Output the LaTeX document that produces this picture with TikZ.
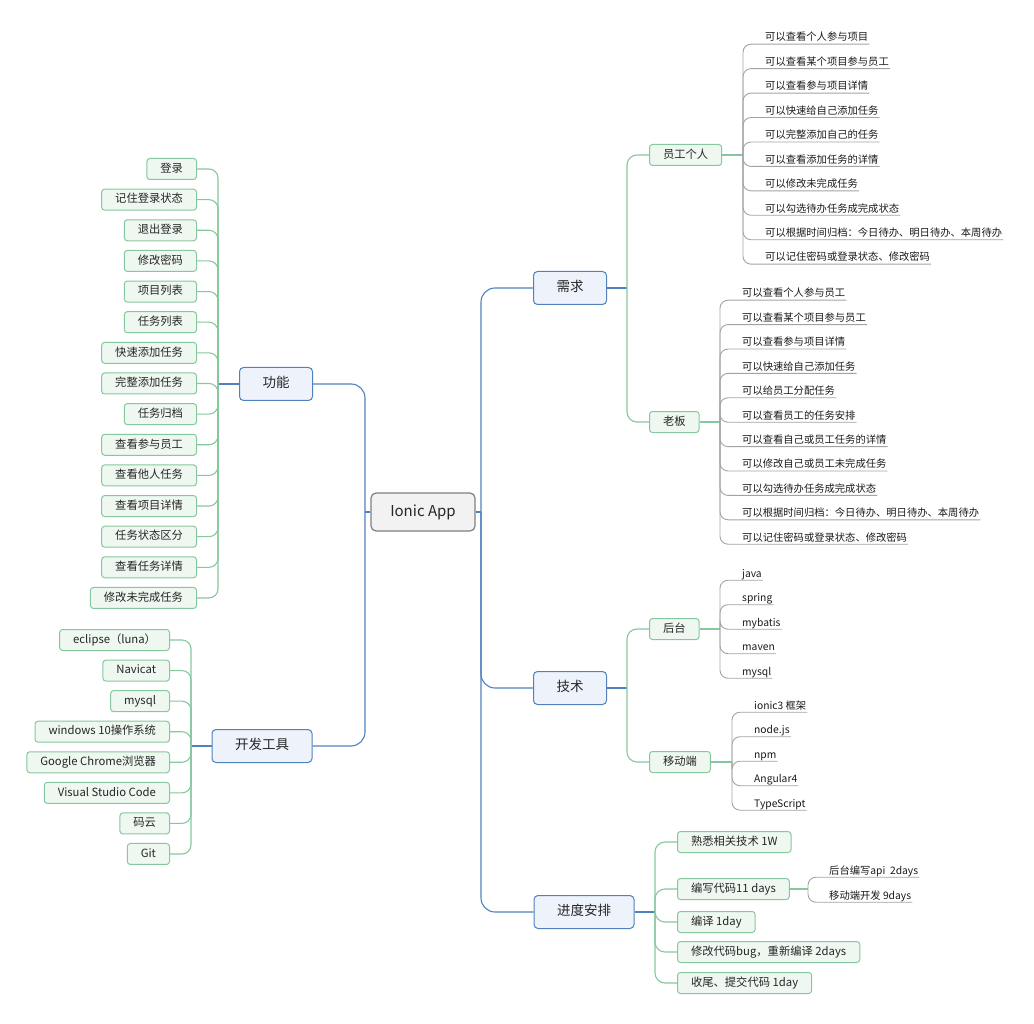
\documentclass[tikz,border=0pt]{standalone}
\usepackage{fontspec}
\setmainfont{Noto Sans CJK SC}
\usetikzlibrary{positioning}

\definecolor{mainblue}{HTML}{4F81BD}
\definecolor{topicfill}{HTML}{EEF3FB}
\definecolor{subgreen}{HTML}{86C89D}
\definecolor{subfill}{HTML}{EEF7F0}
\definecolor{leafgray}{HTML}{A3A3A3}
\definecolor{rootfill}{HTML}{F2F2F2}
\definecolor{rootdraw}{HTML}{7F7F7F}

\tikzset{
  root/.style={draw=rootdraw, fill=rootfill, rounded corners=5, line width=1.2, minimum height=38, minimum width=104, text=black!85, font=\fontsize{15}{18}\selectfont},
  topic/.style={draw=mainblue, fill=topicfill, rounded corners=4, line width=1, minimum height=33, inner xsep=23, text height=10, text depth=3, text=black!85, font=\fontsize{13.5}{16}\selectfont},
  sub/.style={draw=subgreen, fill=subfill, rounded corners=3, line width=1, minimum height=21, inner xsep=13.5, inner ysep=0, text height=9, text depth=2.5, text=black!85, font=\fontsize{11.3}{13}\selectfont},
  leaf/.style={inner xsep=1, inner ysep=1.5, text height=9.5, text depth=1.5, text=black!90, font=\fontsize{10.3}{12}\selectfont},
  bline/.style={draw=mainblue, line width=1.1},
  gline/.style={draw=subgreen, line width=1.1},
  lline/.style={draw=leafgray, line width=0.9}
}

\begin{document}
\begin{tikzpicture}[x=1pt, y=-1pt]

    \useasboundingbox (0,0) rectangle (1034,1024);

    % Centro
    \node[root] (app) at (423,512) {Ionic App};

    % Ramas principales
    \node[topic] (xq) at (570,288) {需求};
    \node[topic] (js) at (570,688) {技术};
    \node[topic] (jd) at (584,912) {进度安排};
    \node[topic] (gn) at (276,384) {功能};
    \node[topic] (kf) at (262,746) {开发工具};

    \coordinate (rj) at (481,512);
    \coordinate (lj) at (365,512);
    \draw[bline] (app.east) -- (rj);
    \draw[bline] (app.west) -- (lj);
    \foreach \n in {xq,js,jd}
      \draw[bline, rounded corners=14] (rj) |- (\n.west);
    \foreach \n in {gn,kf}
      \draw[bline, rounded corners=14] (lj) |- (\n.east);

    % 功能
    \coordinate (gnj) at (218,384);
    \draw[bline] (gn.west) -- (gnj);
    \foreach \t [count=\i] in {登录,记住登录状态,退出登录,修改密码,项目列表,任务列表,快速添加任务,完整添加任务,任务归档,查看参与员工,查看他人任务,查看项目详情,任务状态区分,查看任务详情,修改未完成任务}{
      \node[sub, anchor=east] (gn\i) at (197,{169+(\i-1)*30.64}) {\t};
      \draw[gline, rounded corners=9] (gnj) |- (gn\i.east);
    }

    % 开发工具
    \coordinate (kfj) at (191,746);
    \draw[bline] (kf.west) -- (kfj);
    \foreach \t [count=\i] in {eclipse（luna）,Navicat,mysql,windows 10操作系统,Google Chrome浏览器,Visual Studio Code,码云,Git}{
      \node[sub, anchor=east] (kf\i) at (170,{640+(\i-1)*30.57}) {\t};
      \draw[gline, rounded corners=9] (kfj) |- (kf\i.east);
    }

    % 需求
    \coordinate (xqj) at (627,288);
    \draw[bline] (xq.east) -- (xqj);
    \node[sub, anchor=west] (yg) at (649,155) {员工个人};
    \node[sub, anchor=west] (lb) at (649,422) {老板};
    \draw[gline, rounded corners=10] (xqj) |- (yg.west);
    \draw[gline, rounded corners=10] (xqj) |- (lb.west);

    \coordinate (ygj) at (743,155);
    \draw[gline] (yg.east) -- (ygj);
    \foreach \t [count=\i] in {可以查看个人参与项目,可以查看某个项目参与员工,可以查看参与项目详情,可以快速给自己添加任务,可以完整添加自己的任务,可以查看添加任务的详情,可以修改未完成任务,可以勾选待办任务成完成状态,可以根据时间归档：今日待办、明日待办、本周待办,可以记住密码或登录状态、修改密码}{
      \node[leaf, anchor=west] (yg\i) at (764,{37+(\i-1)*24.44}) {\t};
      \draw[lline, rounded corners=8] (ygj) |- (yg\i.south west) -- (yg\i.south east);
    }

    \coordinate (lbj) at (720,422);
    \draw[gline] (lb.east) -- (lbj);
    \foreach \t [count=\i] in {可以查看个人参与员工,可以查看某个项目参与员工,可以查看参与项目详情,可以快速给自己添加任务,可以给员工分配任务,可以查看员工的任务安排,可以查看自己或员工任务的详情,可以修改自己或员工未完成任务,可以勾选待办任务成完成状态,可以根据时间归档：今日待办、明日待办、本周待办,可以记住密码或登录状态、修改密码}{
      \node[leaf, anchor=west] (lb\i) at (741,{293+(\i-1)*24.4}) {\t};
      \draw[lline, rounded corners=8] (lbj) |- (lb\i.south west) -- (lb\i.south east);
    }

    % 技术
    \coordinate (jsj) at (627,688);
    \draw[bline] (js.east) -- (jsj);
    \node[sub, anchor=west] (ht) at (649,629) {后台};
    \node[sub, anchor=west] (yd) at (649,762) {移动端};
    \draw[gline, rounded corners=10] (jsj) |- (ht.west);
    \draw[gline, rounded corners=10] (jsj) |- (yd.west);

    \coordinate (htj) at (720,629);
    \draw[gline] (ht.east) -- (htj);
    \foreach \t [count=\i] in {java,spring,mybatis,maven,mysql}{
      \node[leaf, anchor=west] (ht\i) at (741,{573+(\i-1)*24.5}) {\t};
      \draw[lline, rounded corners=8] (htj) |- (ht\i.south west) -- (ht\i.south east);
    }

    \coordinate (ydj) at (732,762);
    \draw[gline] (yd.east) -- (ydj);
    \foreach \t [count=\i] in {ionic3 框架,node.js,npm,Angular4,TypeScript}{
      \node[leaf, anchor=west] (yd\i) at (753,{705+(\i-1)*24.5}) {\t};
      \draw[lline, rounded corners=8] (ydj) |- (yd\i.south west) -- (yd\i.south east);
    }

    % 进度安排
    \coordinate (jdj) at (655,912);
    \draw[bline] (jd.east) -- (jdj);
    \foreach \y/\t [count=\i] in {842/熟悉相关技术 1W,889/编写代码11 days,922/编译 1day,952/修改代码bug，重新编译 2days,983/收尾、提交代码 1day}{
      \node[sub, anchor=west] (jd\i) at (677,\y) {\t};
      \draw[gline, rounded corners=10] (jdj) |- (jd\i.west);
    }

    \coordinate (bxj) at (808,889);
    \draw[gline] (jd2.east) -- (bxj);
    \node[leaf, anchor=west] (bx1) at (828,870) {后台编写api\ \ 2days};
    \node[leaf, anchor=west] (bx2) at (828,895) {移动端开发 9days};
    \foreach \n in {bx1,bx2}
      \draw[lline, rounded corners=8] (bxj) |- (\n.south west) -- (\n.south east);

  \end{tikzpicture}
\end{document}
